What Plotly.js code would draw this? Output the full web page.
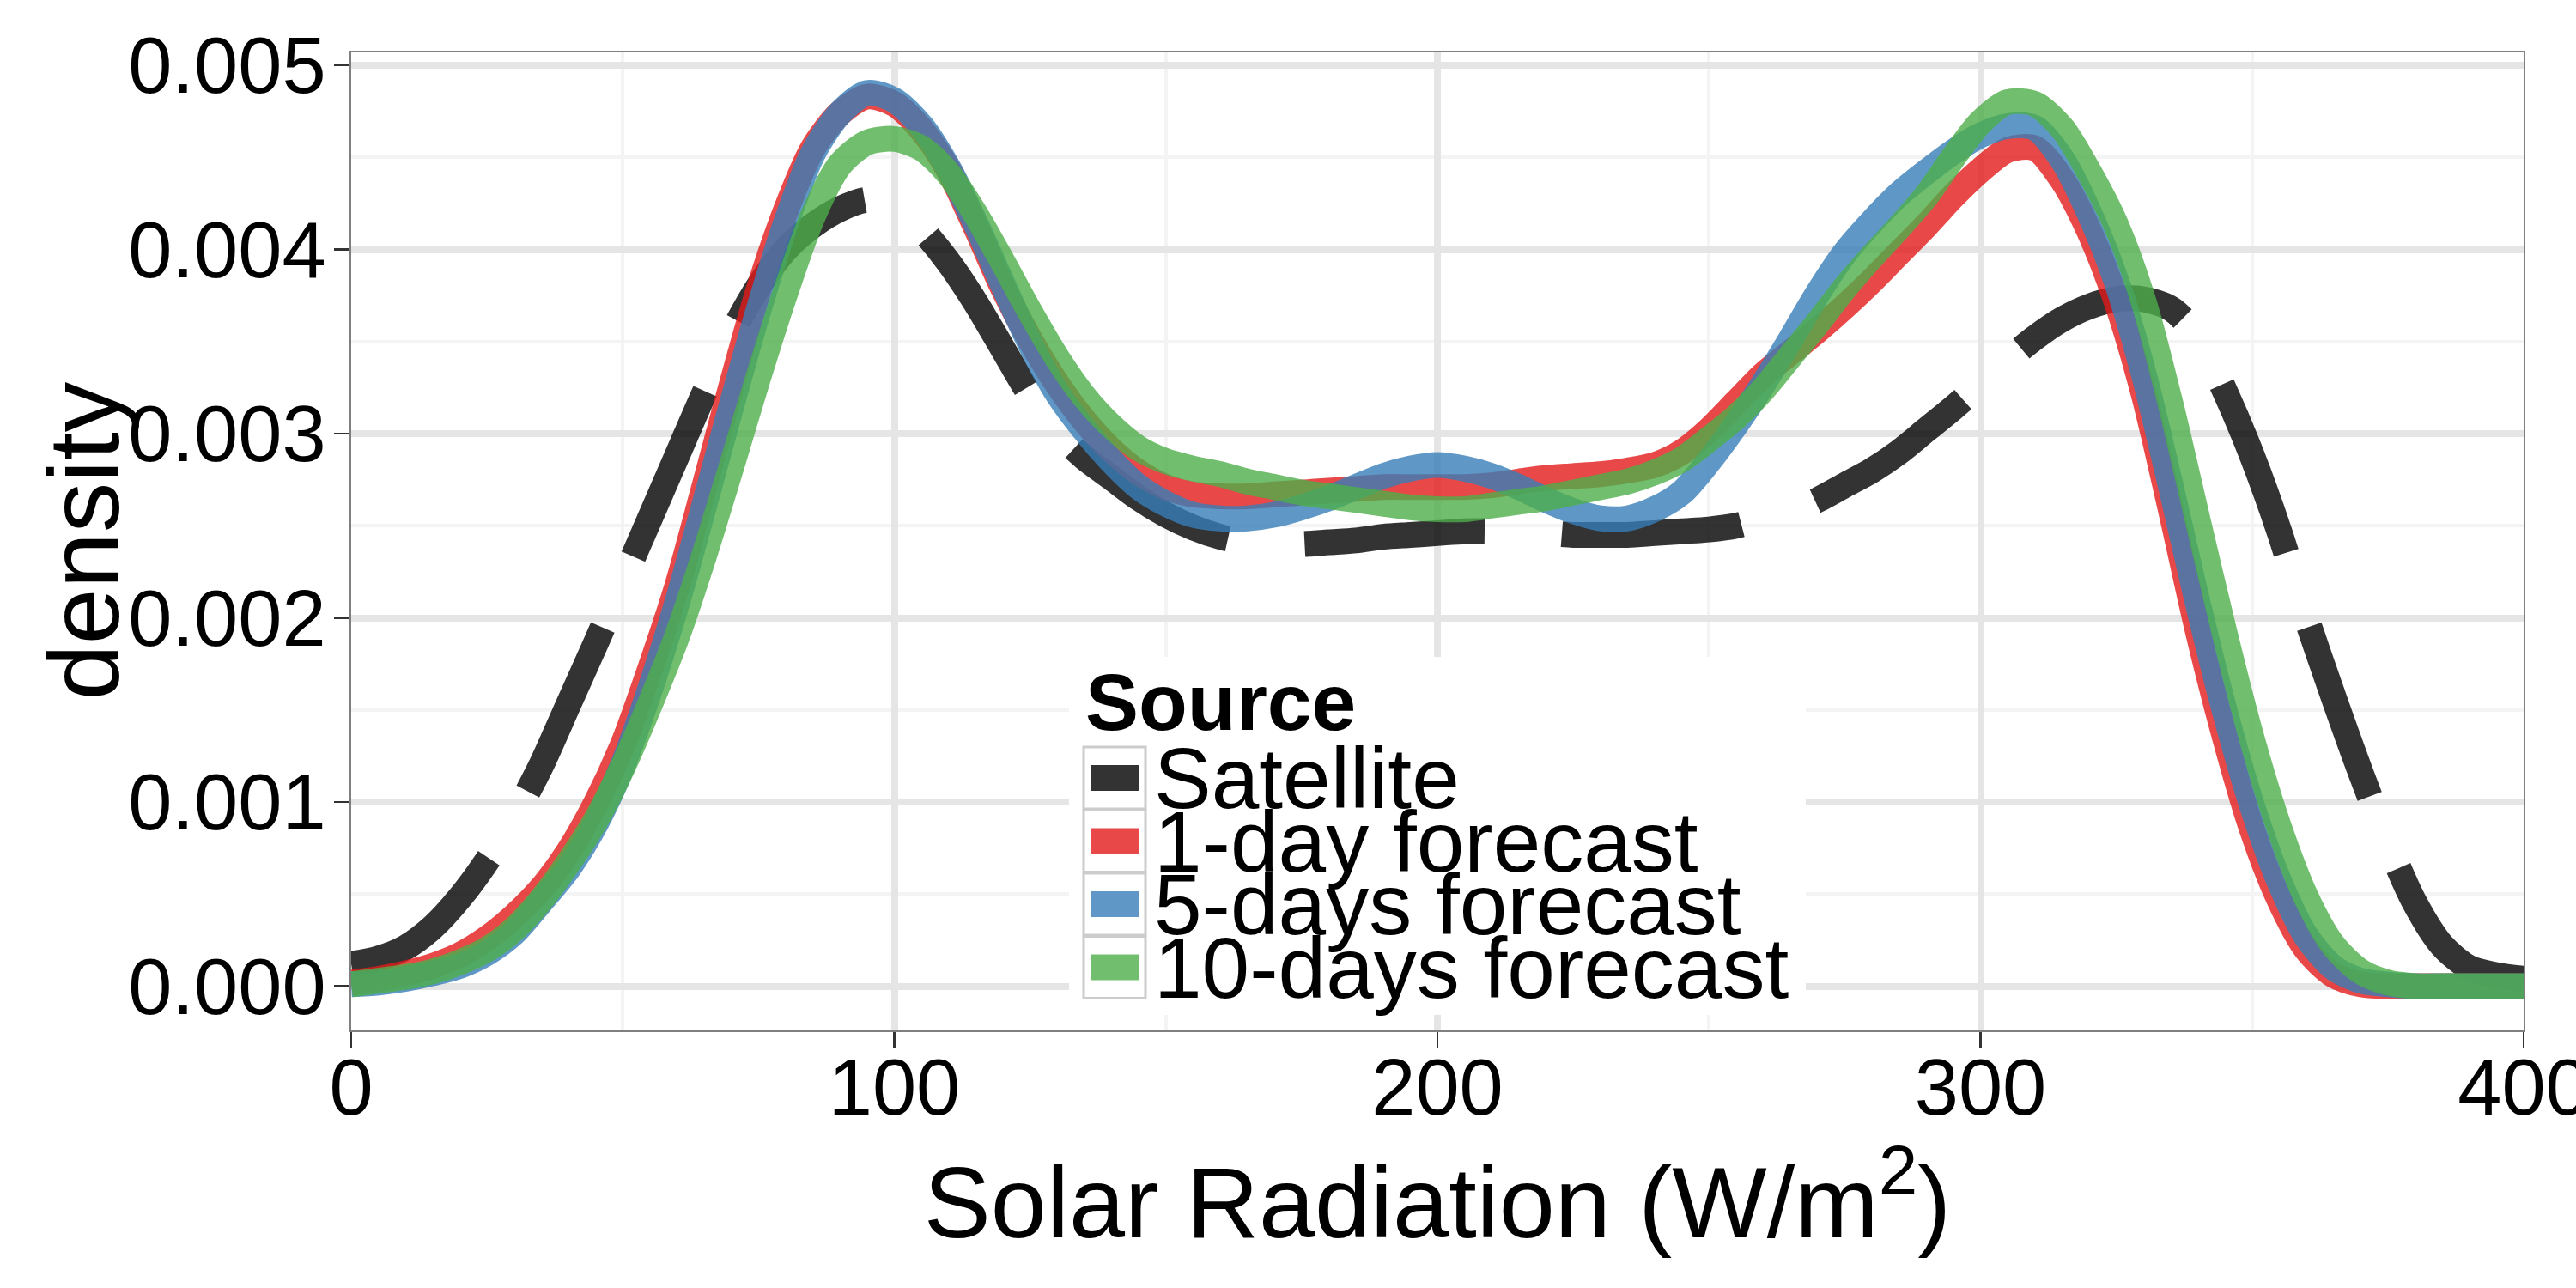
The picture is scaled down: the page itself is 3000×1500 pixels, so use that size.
<!DOCTYPE html>
<html>
<head>
<meta charset="utf-8">
<script src="https://cdn.plot.ly/plotly-3.0.1.min.js"></script>
<style>
    html, body { margin: 0; padding: 0; background: #ffffff; }
    #chart { width: 3000px; height: 1500px; }
</style>
</head>
<body>
<div id="chart"></div>
<script>
// Solar radiation grid (W/m2) and the density of each source.
const radiation = [
    0, 5, 10, 15, 20, 25, 30, 35, 40, 45, 50, 55, 60, 65, 70, 75, 80, 85, 90, 95,
    100, 105, 110, 115, 120, 125, 130, 135, 140, 145, 150, 155, 160, 165, 170, 175, 180, 185, 190, 195,
    200, 205, 210, 215, 220, 225, 230, 235, 240, 245, 250, 255, 260, 265, 270, 275, 280, 285, 290, 295,
    300, 305, 310, 315, 320, 325, 330, 335, 340, 345, 350, 355, 360, 365, 370, 375, 380, 385, 390, 395,
    400,
];

const satellite = [
    0.00012, 0.00015, 0.00021, 0.00032, 0.00048, 0.00068, 0.00092, 0.00120, 0.00153, 0.00186,
    0.00220, 0.00254, 0.00288, 0.00322, 0.00354, 0.00380, 0.00400, 0.00413, 0.00422, 0.00427,
    0.00424, 0.00411, 0.00393, 0.00371, 0.00346, 0.00321, 0.00301, 0.00287, 0.00276, 0.00265,
    0.00256, 0.00249, 0.00244, 0.00241, 0.00240, 0.00240, 0.00241, 0.00242, 0.00244, 0.00245,
    0.00246, 0.00247, 0.00247, 0.00246, 0.00246, 0.00245, 0.00245, 0.00245, 0.00246, 0.00247,
    0.00248, 0.00250, 0.00254, 0.00258, 0.00264, 0.00272, 0.00280, 0.00290, 0.00302, 0.00314,
    0.00327, 0.00340, 0.00352, 0.00362, 0.00369, 0.00373, 0.00373, 0.00368, 0.00353, 0.00323,
    0.00288, 0.00247, 0.00200, 0.00157, 0.00116, 0.00078, 0.00045, 0.00022, 0.00010, 0.00006,
    0.00004,
];

const oneDay = [
    0.00002, 0.00004, 0.00007, 0.00011, 0.00017, 0.00026, 0.00038, 0.00053, 0.00073, 0.00099,
    0.00131, 0.00172, 0.00217, 0.00271, 0.00326, 0.00378, 0.00421, 0.00455, 0.00474, 0.00483,
    0.00479, 0.00465, 0.00443, 0.00412, 0.00379, 0.00351, 0.00327, 0.00307, 0.00291, 0.00279,
    0.00271, 0.00267, 0.00266, 0.00266, 0.00267, 0.00268, 0.00269, 0.00270, 0.00271, 0.00271,
    0.00271, 0.00271, 0.00272, 0.00274, 0.00276, 0.00277, 0.00278, 0.00280, 0.00283, 0.00290,
    0.00302, 0.00317, 0.00332, 0.00344, 0.00356, 0.00369, 0.00383, 0.00398, 0.00413, 0.00429,
    0.00443, 0.00454, 0.00455, 0.00438, 0.00410, 0.00372, 0.00322, 0.00259, 0.00193, 0.00135,
    0.00085, 0.00047, 0.00020, 0.00006, 0.00001, 0, 0, 0, 0, 0,
    0,
];

const fiveDays = [
    0.00001, 0.00002, 0.00004, 0.00007, 0.00011, 0.00018, 0.00029, 0.00046, 0.00064, 0.00088,
    0.00120, 0.00161, 0.00208, 0.00261, 0.00315, 0.00367, 0.00414, 0.00452, 0.00474, 0.00485,
    0.00481, 0.00467, 0.00444, 0.00414, 0.00381, 0.00349, 0.00322, 0.00302, 0.00285, 0.00271,
    0.00262, 0.00256, 0.00254, 0.00254, 0.00256, 0.00260, 0.00265, 0.00271, 0.00277, 0.00281,
    0.00283, 0.00281, 0.00277, 0.00271, 0.00264, 0.00258, 0.00254, 0.00254, 0.00259, 0.00268,
    0.00285, 0.00305, 0.00327, 0.00351, 0.00376, 0.00398, 0.00415, 0.00430, 0.00442, 0.00453,
    0.00462, 0.00467, 0.00466, 0.00449, 0.00420, 0.00383, 0.00333, 0.00272, 0.00208, 0.00149,
    0.00098, 0.00057, 0.00027, 0.00010, 0.00003, 0.00001, 0, 0, 0, 0,
    0,
];

const tenDays = [
    0.00001, 0.00003, 0.00005, 0.00008, 0.00013, 0.00020, 0.00031, 0.00047, 0.00067, 0.00090,
    0.00119, 0.00153, 0.00190, 0.00234, 0.00282, 0.00331, 0.00377, 0.00418, 0.00446, 0.00458,
    0.00460, 0.00455, 0.00441, 0.00419, 0.00393, 0.00366, 0.00341, 0.00320, 0.00304, 0.00292,
    0.00285, 0.00281, 0.00278, 0.00274, 0.00271, 0.00268, 0.00266, 0.00264, 0.00262, 0.00260,
    0.00259, 0.00259, 0.00261, 0.00263, 0.00265, 0.00268, 0.00271, 0.00274, 0.00279, 0.00286,
    0.00297, 0.00309, 0.00324, 0.00342, 0.00360, 0.00379, 0.00396, 0.00412, 0.00429, 0.00450,
    0.00469, 0.00480, 0.00479, 0.00466, 0.00442, 0.00413, 0.00372, 0.00316, 0.00253, 0.00191,
    0.00134, 0.00086, 0.00048, 0.00022, 0.00008, 0.00002, 0, 0, 0, 0,
    0,
];

const sourceNames = ["Satellite", "1-day forecast", "5-days forecast", "10-days forecast"];
const sourceValues = [satellite, oneDay, fiveDays, tenDays];
const sourceColors = [
    "rgba(0, 0, 0, 0.8)",
    "rgba(228, 26, 28, 0.8)",
    "rgba(55, 126, 184, 0.8)",
    "rgba(77, 175, 74, 0.8)",
];
const sourceDashes = ["210px,90px", "solid", "solid", "solid"];

const xTicks = [0, 100, 200, 300, 400];
const yTicks = [0, 0.001, 0.002, 0.003, 0.004, 0.005];

const FONT = "\"Liberation Sans\", Arial, Helvetica, sans-serif";

// panel box in page pixels, used to place the hand-drawn legend
const PANEL = { left: 409, right: 2939, top: 61, bottom: 1200 };
const paperX = (px) => (px - PANEL.left) / (PANEL.right - PANEL.left);
const paperY = (py) => (PANEL.bottom - py) / (PANEL.bottom - PANEL.top);


function buildTraces() {
    return sourceNames.map((name, index) => ({
        type: "scatter",
        mode: "lines",
        name,
        x: radiation,
        y: sourceValues[index],
        line: {
            color: sourceColors[index],
            width: 30,
            dash: sourceDashes[index],
            shape: "spline",
            smoothing: 0.8,
        },
        showlegend: false,
        hoverinfo: "skip",
    }));
}


function buildLegend() {
    const shapes = [];
    const annotations = [];
    const box = { left: 1245, right: 2103, top: 765, bottom: 1182 };
    const keyLeft = 1262;
    const keySize = 72;
    const rowTop = 870;
    const rowPitch = 73.5;

    shapes.push({
        type: "rect", xref: "paper", yref: "paper", layer: "above",
        x0: paperX(box.left), x1: paperX(box.right),
        y0: paperY(box.bottom), y1: paperY(box.top),
        fillcolor: "#ffffff", line: { width: 0 },
    });

    annotations.push({
        xref: "paper", yref: "paper",
        x: paperX(1262), y: paperY(818),
        xanchor: "left", yanchor: "middle",
        text: "<b>Source</b>", showarrow: false,
        font: { family: FONT, size: 93, color: "#000000" },
    });

    sourceNames.forEach((name, index) => {
        const top = rowTop + index * rowPitch;
        const middle = top + keySize / 2;
        shapes.push({
            type: "rect", xref: "paper", yref: "paper", layer: "above",
            x0: paperX(keyLeft), x1: paperX(keyLeft + keySize),
            y0: paperY(top + keySize), y1: paperY(top),
            fillcolor: "#ffffff", line: { color: "#cccccc", width: 3 },
        });
        shapes.push({
            type: "rect", xref: "paper", yref: "paper", layer: "above",
            x0: paperX(keyLeft + 8), x1: paperX(keyLeft + keySize - 7),
            y0: paperY(middle + 15), y1: paperY(middle - 15),
            fillcolor: sourceColors[index], line: { width: 0 },
        });
        annotations.push({
            xref: "paper", yref: "paper",
            x: paperX(1342), y: paperY(middle),
            xanchor: "left", yanchor: "middle",
            text: name, showarrow: false,
            font: { family: FONT, size: 100, color: "#000000" },
        });
    });

    return { shapes, annotations };
}


const legend = buildLegend();

const axisCommon = {
    showline: true,
    mirror: true,
    linecolor: "#7f7f7f",
    linewidth: 2,
    ticks: "outside",
    ticklen: 18,
    tickwidth: 2.5,
    tickcolor: "#333333",
    showgrid: true,
    gridcolor: "#e5e5e5",
    gridwidth: 8,
    zeroline: false,
    tickfont: { family: FONT, size: 92, color: "#000000" },
};

const layout = {
    width: 3000,
    height: 1500,
    margin: { l: PANEL.left, r: 3000 - PANEL.right, t: PANEL.top, b: 1500 - PANEL.bottom },
    paper_bgcolor: "#ffffff",
    plot_bgcolor: "#ffffff",
    font: { family: FONT, color: "#000000" },
    showlegend: false,
    xaxis: {
        ...axisCommon,
        range: [0, 400],
        tickvals: xTicks,
        ticktext: xTicks.map(String),
        ticklabelstandoff: -32,
        ticklabeloverflow: "allow",
        minor: { dtick: 50, showgrid: true, gridcolor: "#f4f4f4", gridwidth: 4, ticks: "" },
        title: {
            text: "Solar Radiation (W/m<sup>2</sup>)",
            font: { family: FONT, size: 117, color: "#000000" },
            standoff: 26,
        },
    },
    yaxis: {
        ...axisCommon,
        range: [-0.00024, 0.00507],
        tickvals: yTicks,
        ticktext: yTicks.map((value) => value.toFixed(3)),
        ticklabelstandoff: -9,
        minor: { dtick: 0.0005, tick0: 0, showgrid: true, gridcolor: "#f4f4f4", gridwidth: 4, ticks: "" },
    },
    shapes: legend.shapes,
    annotations: [
        {
            xref: "paper", yref: "paper",
            x: paperX(97), y: 0.5,
            xanchor: "center", yanchor: "middle",
            textangle: -90,
            text: "density", showarrow: false,
            font: { family: FONT, size: 117, color: "#000000" },
        },
        ...legend.annotations,
    ],
};

Plotly.newPlot("chart", buildTraces(), layout, { staticPlot: true, displayModeBar: false });
</script>
</body>
</html>
